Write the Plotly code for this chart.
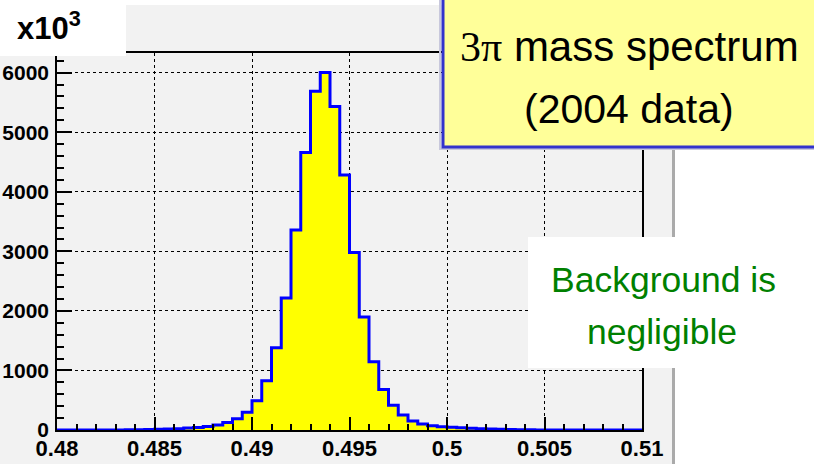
import plotly.graph_objects as go

# 3pi invariant mass histogram, 60 bins of 0.0005 GeV between 0.48 and 0.51
bin_edges = [round(0.48 + 0.0005 * i, 4) for i in range(61)]
counts = [
    0, 0, 0, 0, 0, 1, 2, 3, 5, 8,
    13, 17, 22, 32, 42, 60, 85, 125, 190, 300,
    492, 829, 1379, 2217, 3357, 4658, 5686, 6003, 5431, 4281,
    2981, 1896, 1144, 680, 415, 250, 150, 100, 72, 56,
    45, 36, 28, 22, 16, 11, 8, 5, 3, 2,
    1, 0, 0, 0, 0, 0, 0, 0, 0, 0,
]

x_ticks = [0.48, 0.485, 0.49, 0.495, 0.5, 0.505, 0.51]
x_tick_labels = ["0.48", "0.485", "0.49", "0.495", "0.5", "0.505", "0.51"]
y_ticks = [0, 1000, 2000, 3000, 4000, 5000, 6000]
y_tick_labels = ["0", "1000", "2000", "3000", "4000", "5000", "6000"]

W, H = 814, 464
L, R, T, B = 57, 172, 53, 34
PW, PH = W - L - R, H - T - B


def px(x):
    return (x - L) / PW


def py(y):
    return (H - B - y) / PH


fig = go.Figure()

fig.add_trace(go.Scatter(
    x=bin_edges,
    y=counts + [counts[-1]],
    mode='lines',
    line=dict(color='#0000ff', width=3, shape='hv'),
    fill='tozeroy',
    fillcolor='#ffff00',
    cliponaxis=False,
    showlegend=False,
    hoverinfo='skip'
))

tick_font = dict(family='Liberation Sans, Arial, sans-serif', size=22, color='black', weight='bold')

fig.update_xaxes(
    range=[0.48, 0.51],
    tickvals=x_ticks,
    ticktext=x_tick_labels,
    tickfont=tick_font,
    ticks='inside', ticklen=13, tickcolor='black', tickwidth=1.5,
    minor=dict(dtick=0.001, ticks='inside', ticklen=6, tickcolor='black', tickwidth=1.5, showgrid=False),
    showline=True, linecolor='black', linewidth=1.5, mirror=True,
    showgrid=True, gridcolor='black', gridwidth=1, griddash='dot',
    zeroline=False, automargin=False,
    ticklabelstandoff=-2,
)
fig.update_yaxes(
    range=[0, 6330],
    tickvals=y_ticks,
    ticktext=y_tick_labels,
    tickfont=dict(tick_font, size=21),
    ticks='inside', ticklen=15, tickcolor='black', tickwidth=1.5,
    minor=dict(dtick=200, ticks='inside', ticklen=7, tickcolor='black', tickwidth=1.5, showgrid=False),
    showline=True, linecolor='black', linewidth=1.5, mirror=True,
    showgrid=True, gridcolor='black', gridwidth=1, griddash='dot',
    zeroline=False, automargin=False,
    ticklabelstandoff=2,
)

shapes = [
    # grey canvas behind the pad
    dict(type='rect', xref='paper', yref='paper', layer='below',
         x0=px(0), x1=px(672), y0=py(5), y1=py(H + 5),
         fillcolor='#f2f2f2', line=dict(width=0)),
    dict(type='line', xref='paper', yref='paper', layer='below',
         x0=px(673.5), x1=px(673.5), y0=py(5), y1=py(H + 5),
         line=dict(color='#aaaaaa', width=3)),
    # white box for the x10^3 multiplier
    dict(type='rect', xref='paper', yref='paper', layer='above',
         x0=px(-2), x1=px(126), y0=py(56), y1=py(-2),
         fillcolor='white', line=dict(width=0)),
    # faint shadow and yellow title box
    dict(type='rect', xref='paper', yref='paper', layer='above',
         x0=px(440), x1=px(W + 10), y0=py(149), y1=py(-10),
         fillcolor='rgba(0,0,0,0)', line=dict(color='#c8c8dc', width=2)),
    dict(type='rect', xref='paper', yref='paper', layer='above',
         x0=px(443), x1=px(W + 10), y0=py(147), y1=py(-10),
         fillcolor='#ffff99', line=dict(color='#3333cc', width=3)),
    # white note box
    dict(type='rect', xref='paper', yref='paper', layer='above',
         x0=px(528), x1=px(W + 10), y0=py(368), y1=py(237),
         fillcolor='white', line=dict(width=0)),
]

annotations = [
    dict(text='x10<sup>3</sup>', xref='paper', yref='paper',
         x=px(15), y=py(26), xanchor='left', yanchor='middle', showarrow=False,
         font=dict(family='Liberation Sans, Arial, sans-serif', size=31, color='black', weight='bold')),
    dict(text="<span style='font-family:Liberation Serif'>3π</span> mass spectrum",
         xref='paper', yref='paper', x=px(629), y=py(47),
         xanchor='center', yanchor='middle', showarrow=False,
         font=dict(family='Liberation Sans, Arial, sans-serif', size=42, color='black')),
    dict(text='(2004 data)', xref='paper', yref='paper', x=px(629), y=py(109),
         xanchor='center', yanchor='middle', showarrow=False,
         font=dict(family='Liberation Sans, Arial, sans-serif', size=41, color='black')),
    dict(text='Background is', xref='paper', yref='paper', x=px(663), y=py(280),
         xanchor='center', yanchor='middle', showarrow=False,
         font=dict(family='Liberation Sans, Arial, sans-serif', size=35.5, color='#008000')),
    dict(text='negligible', xref='paper', yref='paper', x=px(662), y=py(332),
         xanchor='center', yanchor='middle', showarrow=False,
         font=dict(family='Liberation Sans, Arial, sans-serif', size=35.5, color='#008000')),
]

fig.update_layout(
    width=W, height=H,
    margin=dict(l=L, r=R, t=T, b=B, pad=0, autoexpand=False),
    paper_bgcolor='white',
    plot_bgcolor='#f2f2f2',
    shapes=shapes,
    annotations=annotations,
    showlegend=False,
)

# drop the default page margin so the figure sits at the window's corner
fig.write_html('out.html', config={'displayModeBar': False},
               post_script="document.body.style.margin='0';")
